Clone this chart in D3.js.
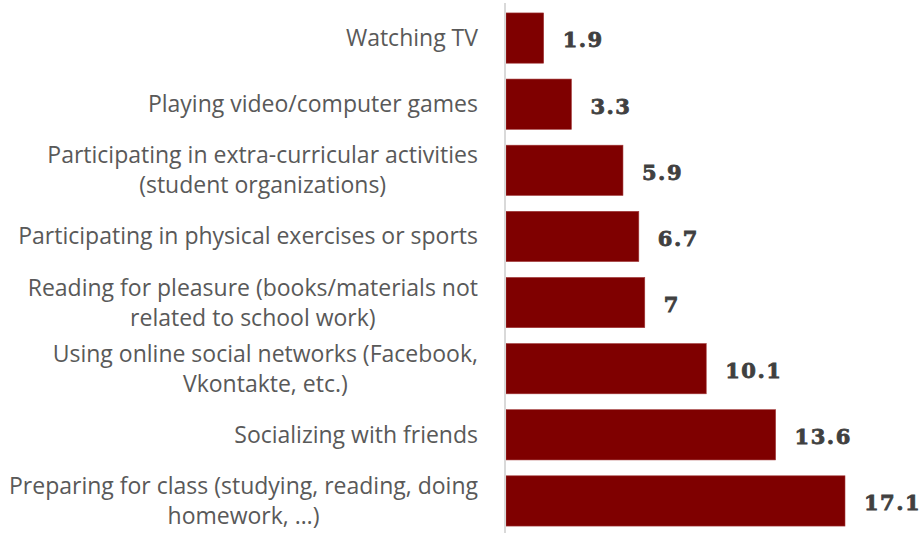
<!DOCTYPE html>
<html>
<head>
<meta charset="utf-8">
<script src="https://cdn.jsdelivr.net/npm/d3@7"></script>
<style>
  body { margin: 0; background: #fff; }
</style>
</head>
<body>
<div class="chart"></div>
<script>
var categories = [
    ["Watching TV"],
    ["Playing video/computer games"],
    ["Participating in extra-curricular activities", "(student organizations)"],
    ["Participating in physical exercises or sports"],
    ["Reading for pleasure (books/materials not", "related to school work)"],
    ["Using online social networks (Facebook,", "Vkontakte, etc.)"],
    ["Socializing with friends"],
    ["Preparing for class (studying, reading, doing", "homework, …)"]
];
var values = [1.9, 3.3, 5.9, 6.7, 7, 10.1, 13.6, 17.1];

var width = 922, height = 533
    , axisX = 505;

var svg = d3.select(".chart").append("svg")
    .attr("width", width)
    .attr("height", height);

var y = d3.scaleBand()
    .domain(d3.range(values.length))
    .range([5, 534])
    .paddingInner(0.24)
    .paddingOuter(0.12);

var x = d3.scaleLinear()
    .domain([0, 17.1])
    .range([axisX + 1, 845]);

svg.append("g")
    .selectAll("rect")
    .data(values)
    .enter().append("rect")
    .attr("x", x(0))
    .attr("y", (d, i) => y(i))
    .attr("width", d => x(d) - x(0))
    .attr("height", y.bandwidth())
    .attr("fill", "#7f0000")
    .attr("stroke", "#a33a3a")
    .attr("stroke-width", 0.6);

// vertical axis line
svg.append("line")
    .attr("x1", axisX).attr("x2", axisX)
    .attr("y1", 3).attr("y2", height)
    .attr("stroke", "#d9d9d9")
    .attr("stroke-width", 2);

// value labels (heavy slab look: bold serif + thin stroke)
svg.append("g")
    .selectAll("text")
    .data(values)
    .enter().append("text")
    .attr("x", d => x(d) + 19)
    .attr("y", (d, i) => y(i) + y.bandwidth() / 2 + 2)
    .attr("dy", "0.35em")
    .attr("font-family", "DejaVu Serif")
    .attr("font-weight", "bold")
    .attr("font-size", 21)
    .attr("letter-spacing", 1.5)
    .attr("fill", "#404040")
    .attr("stroke", "#404040")
    .attr("stroke-width", 0.8)
    .text(d => d);

// category labels, multi-line ones centred as a block
var labelRight = 478, lineH = 30;
var labels = svg.append("g")
    .attr("font-family", "Open Sans")
    .attr("font-size", 23)
    .attr("fill", "#595959");

categories.forEach(function (lines, i) {
    var cy = y(i) + y.bandwidth() / 2;
    var t = labels.append("text").attr("text-anchor", "middle");
    lines.forEach(function (s, j) {
        t.append("tspan")
            .attr("y", cy + (j - (lines.length - 1) / 2) * lineH)
            .attr("dy", "0.35em")
            .text(s);
    });
    var w = d3.max(t.selectAll("tspan").nodes(), n => n.getComputedTextLength());
    t.selectAll("tspan").attr("x", labelRight - w / 2);
});
</script>
</body>
</html>
